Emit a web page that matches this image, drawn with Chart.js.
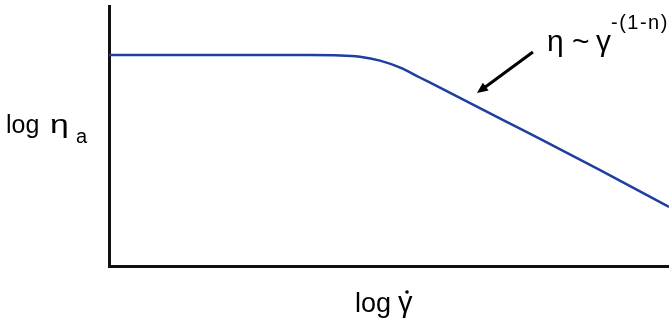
<!DOCTYPE html>
<html>
<head>
<meta charset="utf-8">
<script src="https://cdn.jsdelivr.net/npm/chart.js@4.4.1/dist/chart.umd.min.js"></script>
<style>
  html, body { margin: 0; padding: 0; background: #fff; }
  #wrap { width: 669px; height: 323px; }
</style>
</head>
<body>
<div id="wrap"><canvas id="flowCurve"></canvas></div>
<script>
// values (log shear rate vs log apparent viscosity, arbitrary units)
const logShearRate = [0, 1, 2, 3, 3.41, 4.13, 4.48, 4.84, 5.2, 5.55, 5.91, 7.34, 8.77, 10];
const logViscosity = [8.12, 8.12, 8.12, 8.12, 8.115, 8.1, 8.05, 7.9, 7.63, 7.25, 6.86, 5.28, 3.69, 2.27];

// where the power-law arrow sits (data units)
const arrowTail = [7.57, 8.23];
const arrowTip = [6.57, 6.65];

const points = logShearRate.map((x, i) => ({ x: x, y: logViscosity[i] }));

const FONT = '"Liberation Sans", Arial, sans-serif';

// axis titles + annotation, drawn by hand because of sub/superscripts
const labelsPlugin = {
    id: 'labels',
    afterDraw(chart) {
        const ctx = chart.ctx;
        const xs = chart.scales.x, ys = chart.scales.y;
        const area = chart.chartArea;
        ctx.save();
        ctx.fillStyle = '#000';
        ctx.strokeStyle = '#000';
        ctx.textBaseline = 'alphabetic';
        ctx.textAlign = 'left';

        // y title: log eta_a
        ctx.font = '25px ' + FONT;
        ctx.fillText('log', 6, 133);
        ctx.save();
        ctx.translate(50, 133);
        ctx.scale(1.3, 1);
        ctx.font = '26px ' + FONT;
        ctx.fillText('η', 0, 0);
        ctx.restore();
        ctx.font = '20px ' + FONT;
        ctx.fillText('a', 76, 143);

        // x title: log gamma-dot
        const cx = (area.left + area.right) / 2;
        const startX = cx - 34;
        ctx.font = '27px ' + FONT;
        ctx.fillText('log', startX, 312);
        ctx.font = '29px ' + FONT;
        ctx.fillText('γ', startX + 43, 312);
        ctx.beginPath();
        ctx.arc(startX + 52, 292, 1.8, 0, Math.PI * 2);
        ctx.fill();

        // arrow
        const tx = xs.getPixelForValue(arrowTail[0]), ty = ys.getPixelForValue(arrowTail[1]);
        const hx = xs.getPixelForValue(arrowTip[0]), hy = ys.getPixelForValue(arrowTip[1]);
        const ang = Math.atan2(hy - ty, hx - tx);
        const headLen = 12;
        ctx.lineWidth = 3;
        ctx.beginPath();
        ctx.moveTo(tx, ty);
        ctx.lineTo(hx - Math.cos(ang) * headLen * 0.8, hy - Math.sin(ang) * headLen * 0.8);
        ctx.stroke();
        ctx.beginPath();
        ctx.moveTo(hx, hy);
        ctx.lineTo(hx - headLen * Math.cos(ang - 0.42), hy - headLen * Math.sin(ang - 0.42));
        ctx.lineTo(hx - headLen * Math.cos(ang + 0.42), hy - headLen * Math.sin(ang + 0.42));
        ctx.closePath();
        ctx.fill();

        // eta ~ gamma^-(1-n)
        const by = 51;
        ctx.font = '30px ' + FONT;
        ctx.fillText('η', 547, by);
        ctx.fillText('~', 572, by);
        ctx.fillText('γ', 596, by);
        ctx.font = '20px ' + FONT;
        ctx.letterSpacing = '1.5px';
        ctx.fillText('-(1-n)', 611, 29);
        ctx.restore();
    }
};

new Chart(document.getElementById('flowCurve').getContext('2d'), {
    type: 'line',
    data: {
        datasets: [{
            data: points,
            borderColor: '#1f3f9f',
            borderWidth: 2.5,
            pointRadius: 0,
            fill: false,
            cubicInterpolationMode: 'monotone'
        }]
    },
    options: {
        responsive: true,
        maintainAspectRatio: false,
        animation: false,
        layout: { padding: { left: 109, top: 6, right: 0, bottom: 57 } },
        plugins: {
            legend: { display: false },
            tooltip: { enabled: false }
        },
        scales: {
            x: {
                type: 'linear',
                min: 0, max: 10,
                grid: { display: false, drawTicks: false },
                ticks: { display: false },
                border: { display: true, color: '#111', width: 3 }
            },
            y: {
                min: 0, max: 10,
                grid: { display: false, drawTicks: false },
                ticks: { display: false },
                border: { display: true, color: '#111', width: 3 }
            }
        }
    },
    plugins: [labelsPlugin]
});
</script>
</body>
</html>
